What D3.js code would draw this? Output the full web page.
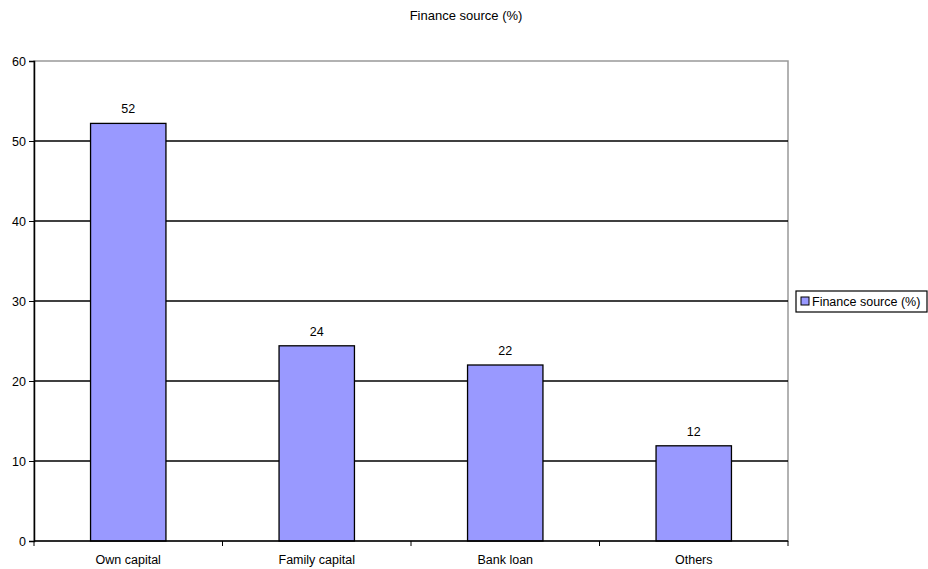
<!DOCTYPE html>
<html lang="en">
<head>
  <meta charset="UTF-8">
  <script src="https://d3js.org/d3.v7.min.js"></script>
  <style>
    body { margin: 0; background: #fff; }
    text { font-family: "Liberation Sans", Arial, sans-serif; fill: #000; }
  </style>
</head>
<body>
  <svg id="chart" width="928" height="569"></svg>
  <script>
    const categories = ["Own capital", "Family capital", "Bank loan", "Others"];
    const values = [52.2, 24.4, 22, 11.9];
    const yTicks = [0, 10, 20, 30, 40, 50, 60];
    const title = "Finance source (%)";
    const seriesName = "Finance source (%)";

    const svg = d3.select("#chart");
    const margins = { top: 61, right: 140, bottom: 28, left: 34 };
    const width = +svg.attr("width");
    const height = +svg.attr("height");
    const plotW = width - margins.left - margins.right;
    const plotH = height - margins.top - margins.bottom;

    const x = d3.scaleBand().domain(categories).range([0, plotW])
      .paddingInner(0.6).paddingOuter(0.3);
    const y = d3.scaleLinear().domain([0, 60]).range([plotH, 0]);

    // title
    svg.append("text")
      .attr("x", 466).attr("y", 20)
      .attr("text-anchor", "middle")
      .style("font-size", "13px")
      .text(title);

    const g = svg.append("g")
      .attr("transform", "translate(" + margins.left + "," + margins.top + ")");

    // plot area border
    g.append("rect")
      .attr("x", 0).attr("y", 0).attr("width", plotW).attr("height", plotH)
      .attr("fill", "none").attr("stroke", "#999").attr("stroke-width", 1.5);

    // gridlines
    g.selectAll("line.grid").data(yTicks.filter(d => d > 0 && d < 60))
      .join("line")
      .attr("class", "grid")
      .attr("x1", 0).attr("x2", plotW)
      .attr("y1", d => y(d)).attr("y2", d => y(d))
      .attr("stroke", "#000").attr("stroke-width", 1.4);

    // bars
    g.selectAll("rect.bar").data(values)
      .join("rect")
      .attr("class", "bar")
      .attr("x", (d, i) => x(categories[i]))
      .attr("y", d => y(d))
      .attr("width", x.bandwidth())
      .attr("height", d => plotH - y(d))
      .attr("fill", "#9999FF")
      .attr("stroke", "#000").attr("stroke-width", 1.3);

    // value labels
    g.selectAll("text.val").data(values)
      .join("text")
      .attr("class", "val")
      .attr("x", (d, i) => x(categories[i]) + x.bandwidth() / 2)
      .attr("y", d => y(d) - 10)
      .attr("text-anchor", "middle")
      .style("font-size", "12.5px")
      .text(d => d3.format(".0f")(d));

    // y axis
    const yAxis = g.append("g")
      .call(d3.axisLeft(y).tickValues(yTicks).tickSize(5).tickPadding(3).tickFormat(d3.format("d")));
    yAxis.select(".domain").attr("stroke", "#000").attr("stroke-width", 1.5);
    yAxis.selectAll(".tick line").attr("stroke", "#000");
    yAxis.selectAll("text").style("font-size", "12.5px").attr("fill", "#000")
      .style("font-family", "'Liberation Sans', Arial, sans-serif");

    // x axis
    const xAxis = g.append("g")
      .attr("transform", "translate(0," + plotH + ")");
    xAxis.append("line")
      .attr("x1", 0).attr("x2", plotW)
      .attr("stroke", "#000").attr("stroke-width", 1.5);
    xAxis.selectAll("line.tick").data(d3.range(categories.length + 1))
      .join("line")
      .attr("class", "tick")
      .attr("x1", i => i * plotW / categories.length)
      .attr("x2", i => i * plotW / categories.length)
      .attr("y1", 0).attr("y2", 5)
      .attr("stroke", "#000");
    xAxis.selectAll("text.cat").data(categories)
      .join("text")
      .attr("class", "cat")
      .attr("x", d => x(d) + x.bandwidth() / 2)
      .attr("y", 23)
      .attr("text-anchor", "middle")
      .style("font-size", "12.5px")
      .text(d => d);

    // legend
    const legend = svg.append("g").attr("transform", "translate(796,291)");
    legend.append("rect")
      .attr("width", 131).attr("height", 21)
      .attr("fill", "#fff").attr("stroke", "#000").attr("stroke-width", 1.2);
    legend.append("rect")
      .attr("x", 5).attr("y", 6).attr("width", 8).attr("height", 8)
      .attr("fill", "#9999FF").attr("stroke", "#000");
    legend.append("text")
      .attr("x", 16).attr("y", 15)
      .style("font-size", "12.5px")
      .text(seriesName);
  </script>
</body>
</html>
